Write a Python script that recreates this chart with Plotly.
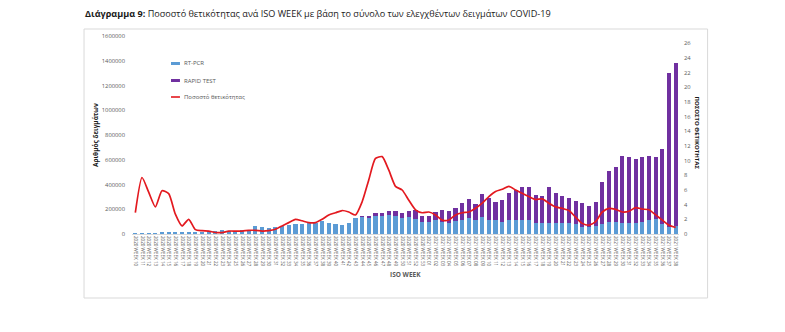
import plotly.graph_objects as go

# ---------------- data ----------------
years = [2020] * 44 + [2021] * 38
week_numbers = list(range(10, 54)) + list(range(1, 39))
categories = [f"{y} WEEK {w:02d}" for y, w in zip(years, week_numbers)]

rt_pcr = [2000, 4000, 6000, 8000, 9000, 10000, 11000, 12000, 13000, 16000,
          20000, 24000, 27000, 32000, 28000, 27000, 30000, 35000, 62000, 60000,
          45000, 54000, 65000, 73000, 81000, 81000, 91000, 91000, 105000, 86000,
          78000, 73000, 86000, 127000, 140000, 135000, 145000, 145000, 150000, 145000,
          130000, 135000, 120000, 100000, 95000, 110000, 100000, 90000, 105000, 115000,
          130000, 115000, 140000, 113000, 113000, 100000, 113000, 113000, 113000, 113000,
          91000, 91000, 91000, 91000, 91000, 88000, 81000, 59000, 54000, 65000,
          81000, 100000, 100000, 91000, 91000, 91000, 100000, 113000, 119000, 81000,
          54000, 65000]

rapid_test = [0] * 34 + [5000, 10000, 22000, 27000, 36000, 37000,
              37000, 51000, 74000, 45000, 50000, 68000, 94000, 92000, 102000, 138000,
              150000, 125000, 180000, 177000, 148000, 175000, 216000, 243000, 264000, 269000,
              224000, 216000, 291000, 238000, 216000, 206000, 186000, 189000, 172000, 196000,
              342000, 412000, 439000, 542000, 534000, 512000, 525000, 520000, 506000, 603000,
              1246000, 1315000]

positivity = [2.9, 7.7, 5.7, 3.7, 5.9, 5.5, 2.7, 1.1, 2.0, 0.6,
              0.45, 0.4, 0.2, 0.2, 0.4, 0.4, 0.4, 0.5, 0.5, 0.4,
              0.45, 0.64, 1.1, 1.55, 2.0, 1.8, 1.55, 1.55, 2.0, 2.6,
              2.9, 3.2, 3.0, 2.6, 4.4, 7.4, 10.3, 10.55, 8.7, 6.5,
              6.0, 4.6, 3.3, 2.9, 3.0, 2.6, 1.9, 1.9, 2.6, 2.9,
              3.0, 3.5, 4.2, 5.1, 5.8, 6.1, 6.5, 6.0, 5.55, 5.1,
              4.7, 4.8, 4.2, 3.7, 3.5, 3.2, 2.3, 1.45, 1.2, 1.7,
              3.0, 3.5, 3.35, 3.0, 3.1, 3.6, 3.4, 3.3, 2.6, 1.9,
              1.2, 0.9]

series_names = ["RT-PCR", "RAPID TEST", "Ποσοστό θετικότητας"]
left_ticks = list(range(0, 1600001, 200000))
right_ticks = list(range(0, 27, 2))

# ---------------- styling ----------------
BLUE = "#5B9BD5"
PURPLE = "#7030A0"
RED = "#E3191F"
GRAY = "#595959"
FONT = "Open Sans"

W, H = 785, 332
PL, PR, PT, PB = 132, 679.4, 36, 234  # plot area in px


def px2x(px):
    return (px - PL) / (PR - PL)


def px2y(py):
    return (PB - py) / (PB - PT)


fig = go.Figure()
fig.add_trace(go.Bar(x=categories, y=rt_pcr, name=series_names[0],
                     marker_color=BLUE, marker_line_width=0))
fig.add_trace(go.Bar(x=categories, y=rapid_test, name=series_names[1],
                     marker_color=PURPLE, marker_line_width=0))
fig.add_trace(go.Scatter(x=categories, y=positivity, name=series_names[2],
                         yaxis="y2", mode="lines",
                         line=dict(color=RED, width=1.7, shape="spline", smoothing=0.6)))

shapes = [
    # outer chart frame
    dict(type="rect", xref="paper", yref="paper",
         x0=px2x(84), x1=px2x(708), y0=px2y(298), y1=px2y(29),
         line=dict(color="#D9D9D9", width=1), fillcolor="rgba(0,0,0,0)", layer="below"),
    # legend swatches
    dict(type="rect", xref="paper", yref="paper",
         x0=px2x(171), x1=px2x(180), y0=px2y(65), y1=px2y(62),
         line=dict(width=0), fillcolor=BLUE),
    dict(type="rect", xref="paper", yref="paper",
         x0=px2x(171), x1=px2x(180), y0=px2y(82), y1=px2y(79),
         line=dict(width=0), fillcolor=PURPLE),
    dict(type="line", xref="paper", yref="paper",
         x0=px2x(171), x1=px2x(180), y0=px2y(97), y1=px2y(97),
         line=dict(color=RED, width=1.6)),
]

annotations = [
    dict(text="<b>Διάγραμμα 9:</b> Ποσοστό θετικότητας ανά ISO WEEK με βάση το σύνολο των ελεγχθέντων δειγμάτων COVID-19",
         xref="paper", yref="paper", x=px2x(83), y=px2y(14), xanchor="left", yanchor="middle",
         showarrow=False, font=dict(family=FONT, size=9.1, color="#1A1A1A")),
    dict(text=series_names[0], xref="paper", yref="paper", x=px2x(182), y=px2y(63.5),
         xanchor="left", yanchor="middle", showarrow=False, font=dict(family=FONT, size=6, color=GRAY)),
    dict(text=series_names[1], xref="paper", yref="paper", x=px2x(182), y=px2y(80.5),
         xanchor="left", yanchor="middle", showarrow=False, font=dict(family=FONT, size=6, color=GRAY)),
    dict(text=series_names[2], xref="paper", yref="paper", x=px2x(182), y=px2y(97),
         xanchor="left", yanchor="middle", showarrow=False, font=dict(family=FONT, size=6, color=GRAY)),
    dict(text="<b>Αριθμός δειγμάτων</b>", xref="paper", yref="paper", x=px2x(95), y=px2y(135),
         xanchor="center", yanchor="middle", textangle=-90, showarrow=False,
         font=dict(family=FONT, size=6.5, color="#1A1A1A")),
    dict(text="<b>ΠΟΣΟΣΤΟ ΘΕΤΙΚΟΤΗΤΑΣ</b>", xref="paper", yref="paper", x=px2x(697), y=px2y(133),
         xanchor="center", yanchor="middle", textangle=90, showarrow=False,
         font=dict(family=FONT, size=6, color="#1A1A1A")),
    dict(text="<b>ISO WEEK</b>", xref="paper", yref="paper", x=0.5, y=px2y(274),
         xanchor="center", yanchor="middle", showarrow=False,
         font=dict(family=FONT, size=6.5, color=GRAY)),
]

fig.update_layout(
    width=W, height=H,
    margin=dict(l=PL, r=W - PR, t=PT, b=H - PB, pad=0),
    paper_bgcolor="white", plot_bgcolor="white",
    barmode="stack", bargap=0.38,
    showlegend=False,
    font=dict(family=FONT, color=GRAY),
    shapes=shapes, annotations=annotations,
    xaxis=dict(type="category", tickmode="array", tickvals=categories, ticktext=categories,
               tickangle=90, tickfont=dict(size=4.6, color=GRAY),
               showline=True, linecolor="#D9D9D9", linewidth=1, ticks="",
               showgrid=False, zeroline=False, fixedrange=True),
    yaxis=dict(range=[0, 1600000], tickvals=left_ticks, tickformat="d",
               tickfont=dict(size=5.8, color=GRAY), showgrid=False, zeroline=False,
               showline=False, ticks="", ticklabelstandoff=6),
    yaxis2=dict(range=[0, 27], tickvals=right_ticks, overlaying="y", side="right",
                tickfont=dict(size=5.8, color=GRAY), showgrid=False, zeroline=False,
                showline=False, ticks="", ticklabelstandoff=4),
)

fig.write_html("out.html")
